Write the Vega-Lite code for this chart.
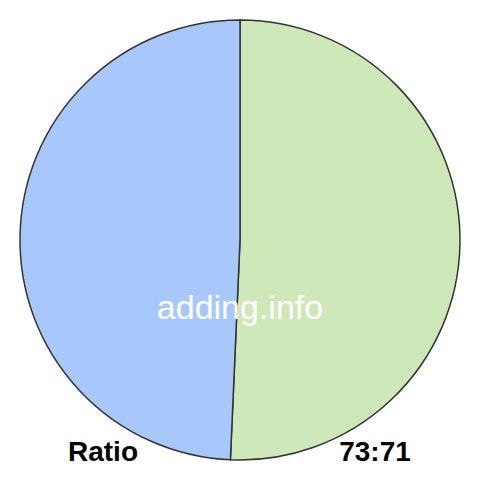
{
  "$schema": "https://vega.github.io/schema/vega-lite/v6.json",
  "width": 480,
  "height": 480,
  "autosize": {"type": "fit", "contains": "padding"},
  "padding": 0,
  "background": "white",
  "config": {"view": {"stroke": null}},
  "layer": [
    {
      "data": {
        "values": [
          {"part": "first", "value": 73, "order": 1},
          {"part": "second", "value": 71, "order": 2}
        ]
      },
      "mark": {"type": "arc", "outerRadius": 220, "stroke": "#333333", "strokeWidth": 1.5},
      "encoding": {
        "theta": {"field": "value", "type": "quantitative", "stack": true},
        "order": {"field": "order", "type": "quantitative"},
        "color": {
          "field": "part",
          "type": "nominal",
          "scale": {"domain": ["first", "second"], "range": ["#cfe8b9", "#a8c8fc"]},
          "legend": null
        }
      }
    },
    {
      "data": {
        "values": [
          {"label": "adding.info", "px": 240, "py": 319, "kind": "watermark"},
          {"label": "Ratio", "px": 103, "py": 461, "kind": "caption"},
          {"label": "73:71", "px": 375, "py": 461, "kind": "caption"}
        ]
      },
      "transform": [{"filter": "datum.kind == 'watermark'"}],
      "mark": {"type": "text", "font": "Liberation Sans", "fontSize": 34, "color": "white", "align": "center", "baseline": "alphabetic"},
      "encoding": {
        "text": {"field": "label"},
        "x": {"field": "px", "type": "quantitative", "scale": {"domain": [0, 480]}, "axis": null},
        "y": {"field": "py", "type": "quantitative", "scale": {"domain": [0, 480], "reverse": true}, "axis": null}
      }
    },
    {
      "data": {
        "values": [
          {"label": "adding.info", "px": 240, "py": 319, "kind": "watermark"},
          {"label": "Ratio", "px": 103, "py": 461, "kind": "caption"},
          {"label": "73:71", "px": 375, "py": 461, "kind": "caption"}
        ]
      },
      "transform": [{"filter": "datum.kind == 'caption'"}],
      "mark": {"type": "text", "font": "Liberation Sans", "fontSize": 28, "fontWeight": "bold", "color": "black", "align": "center", "baseline": "alphabetic"},
      "encoding": {
        "text": {"field": "label"},
        "x": {"field": "px", "type": "quantitative", "scale": {"domain": [0, 480]}, "axis": null},
        "y": {"field": "py", "type": "quantitative", "scale": {"domain": [0, 480], "reverse": true}, "axis": null}
      }
    }
  ]
}
